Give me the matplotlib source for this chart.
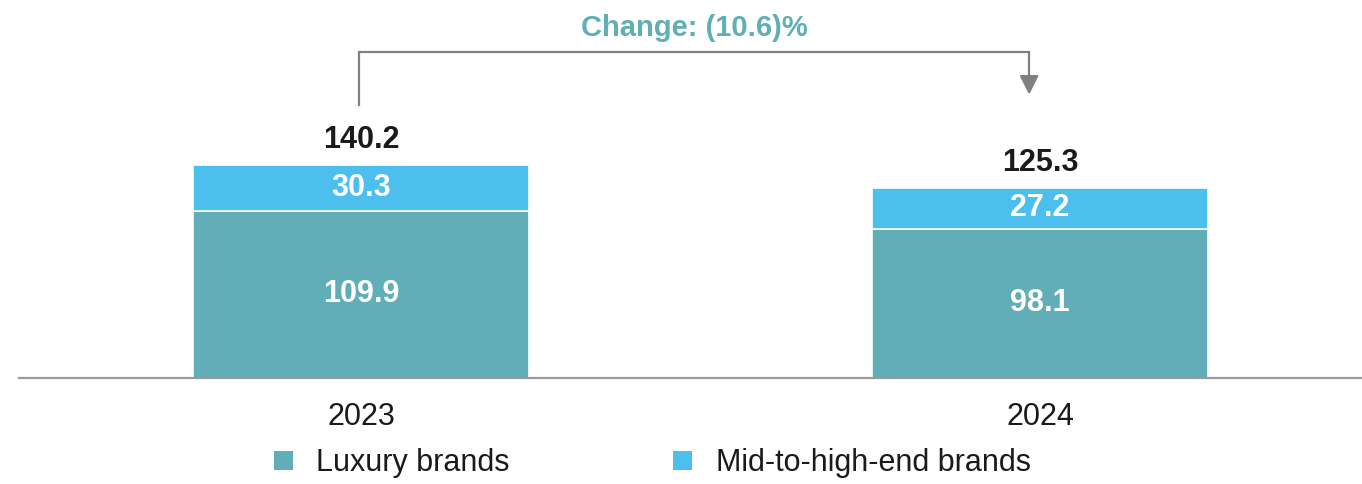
import matplotlib.pyplot as plt
from matplotlib.patches import Patch

plt.rcParams["font.family"] = ["Liberation Sans", "DejaVu Sans"]

# Market size by brand tier
years = ["2023", "2024"]
luxury = [109.9, 98.1]
mid_high = [30.3, 27.2]
totals = [140.2, 125.3]
series_names = ["Luxury brands", "Mid-to-high-end brands"]

LUX_COLOR = "#62AEB8"
MID_COLOR = "#4CBFEE"
TEAL_TEXT = "#5FAFB5"

fig = plt.figure(figsize=(13.62, 4.84), dpi=100)
ax = fig.add_axes([19 / 1362, 106 / 484, 1 - 19 / 1362, 378 / 484])

x = list(range(len(years)))
width = 0.495
ax.bar(x, luxury, width, color=LUX_COLOR, edgecolor="white", linewidth=1.2)
ax.bar(x, mid_high, width, bottom=luxury, color=MID_COLOR,
       edgecolor="white", linewidth=1.2)

ax.set_xlim(-0.5037, 1.4742)
ax.set_ylim(0, 248.7)

# segment labels
for i in x:
    ax.text(i, luxury[i] / 2, f"{luxury[i]:.1f}", ha="center", va="center",
            color="white", fontsize=22, fontweight="bold")
    ax.text(i, luxury[i] + mid_high[i] / 2, f"{mid_high[i]:.1f}", ha="center",
            va="center", color="white", fontsize=22, fontweight="bold")
    ax.annotate(f"{totals[i]:.1f}", (i, totals[i]), xytext=(0, 7),
                textcoords="offset points", ha="center", va="bottom",
                fontsize=22, fontweight="bold", color="#1a1a1a")

# change bracket between the two years
change = (totals[1] / totals[0] - 1) * 100
y_top = 214.5
x_left, x_right = -0.003, 0.984
ax.plot([x_left, x_left, x_right, x_right], [179.6, y_top, y_top, 198],
        color="#808080", lw=1.6, solid_joinstyle="miter", clip_on=False)
ax.annotate("", xy=(x_right, 186.5), xytext=(x_right, 199),
            arrowprops=dict(arrowstyle="-|>,head_width=0.58,head_length=1.15",
                            color="#808080", lw=1.6, shrinkA=0, shrinkB=0),
            annotation_clip=False)
label = f"({abs(change):.1f})%" if change < 0 else f"{change:.1f}%"
ax.text((x_left + x_right) / 2, 230, f"Change: {label}", ha="center",
        va="center", fontsize=21, fontweight="bold", color=TEAL_TEXT)

# axes styling
for side in ["top", "right", "left"]:
    ax.spines[side].set_visible(False)
ax.spines["bottom"].set_color("#9a9a9a")
ax.spines["bottom"].set_linewidth(1.6)
ax.set_yticks([])
ax.set_xticks(x)
ax.set_xticklabels(years, fontsize=22, color="#1a1a1a")
ax.tick_params(axis="x", length=0, pad=17)

handles = [Patch(facecolor=LUX_COLOR), Patch(facecolor=MID_COLOR)]
fig.legend(handles, series_names, loc="center left",
           bbox_to_anchor=(259 / 1362, 1 - 463 / 484), ncol=2, frameon=False,
           fontsize=22, handlelength=0.6, handleheight=0.6,
           handletextpad=0.78, columnspacing=5.35, borderpad=0,
           labelcolor="#1a1a1a")

fig.savefig("out.png", dpi=100)
